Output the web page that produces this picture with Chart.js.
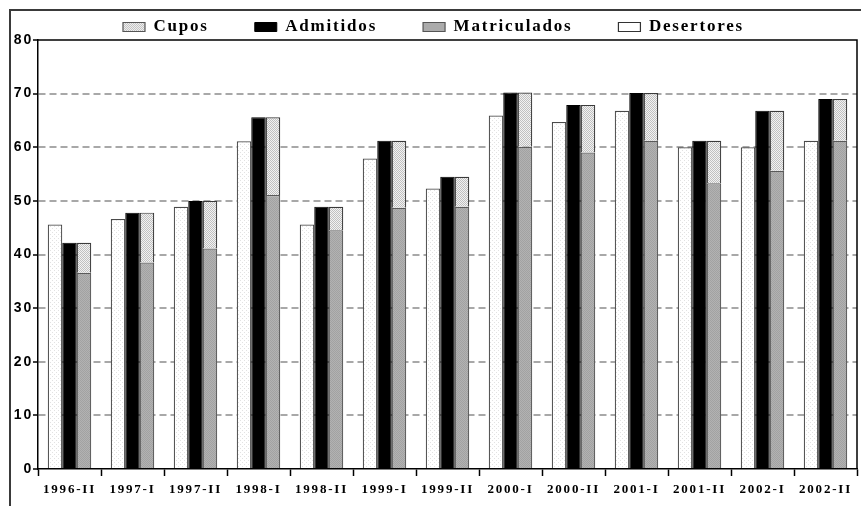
<!DOCTYPE html>
<html>
<head>
<meta charset="utf-8">
<script src="https://cdn.jsdelivr.net/npm/chart.js@4.4.0/dist/chart.umd.min.js"></script>
<style>
html,body{margin:0;padding:0;background:#fff;}
#wrap{width:861px;height:506px;position:relative;}
</style>
</head>
<body>
<div id="wrap"><canvas id="c"></canvas></div>
<script>
const categories = ['1996-II','1997-I','1997-II','1998-I','1998-II','1999-I','1999-II','2000-I','2000-II','2001-I','2001-II','2002-I','2002-II'];
const cupos        = [45.6, 46.6, 48.9, 61.1, 45.6, 57.9, 52.3, 65.9, 64.7, 66.8, 60.0, 60.0, 61.2];
const admitidos    = [42.2, 47.8, 50.0, 65.6, 48.9, 61.2, 54.5, 70.2, 67.9, 70.1, 61.2, 66.8, 69.0];
const matriculados = [36.6, 38.5, 41.1, 51.1, 44.5, 48.7, 48.9, 60.1, 59.0, 61.2, 53.3, 55.6, 61.2];
const desertores   = [5.6, 9.3, 8.9, 14.5, 4.4, 12.5, 5.6, 10.1, 8.9, 8.9, 7.9, 11.2, 7.8];
const seriesNames  = ['Cupos', 'Admitidos', 'Matriculados', 'Desertores'];
const yMin = 0, yMax = 80, yStep = 10;

const LS = '1.8px';

function makePattern(size, bg, fg, dots) {
  const c = document.createElement('canvas');
  c.width = size; c.height = size;
  const g = c.getContext('2d');
  g.fillStyle = bg; g.fillRect(0, 0, size, size);
  g.fillStyle = fg;
  dots.forEach(([x, y]) => g.fillRect(x, y, 1, 1));
  return g.createPattern(c, 'repeat');
}
const cuposPat = makePattern(4, '#ffffff', '#e2e2e2', [[0,0],[2,2]]);
const desPat   = makePattern(2, '#f2f2f2', '#c0c0c0', [[0,0],[1,1]]);
const matPat   = makePattern(2, '#b2b2b2', '#a2a2a2', [[0,0],[1,1]]);
const legendCuposPat = makePattern(2, '#eeeeee', '#c4c4c4', [[0,0],[1,1]]);

const framePlugin = {
  id: 'frame',
  beforeLayout(chart) { chart.ctx.letterSpacing = LS; },
  afterLayout(chart) {
    const lg = chart.legend;
    if (lg) {
      const p = lg.options.labels.padding;
      const fs = lg.options.labels.font.size;
      lg.top = 27 - fs / 2 - p;
    }
  },
  beforeDraw(chart) { chart.ctx.letterSpacing = LS; },
  afterDraw(chart) {
    const {ctx, chartArea: a} = chart;
    ctx.save();
    ctx.strokeStyle = '#000';
    ctx.lineWidth = 1.5;
    ctx.beginPath();
    ctx.moveTo(a.left, a.top);
    ctx.lineTo(a.right, a.top);
    ctx.lineTo(a.right, a.bottom);
    ctx.stroke();
    ctx.strokeStyle = '#3a3a3a';
    ctx.lineWidth = 2;
    ctx.beginPath();
    ctx.moveTo(10, 506);
    ctx.lineTo(10, 10);
    ctx.lineTo(861, 10);
    ctx.stroke();
    ctx.restore();
  }
};

const ctx = document.getElementById('c').getContext('2d');
new Chart(ctx, {
  type: 'bar',
  data: {
    labels: categories,
    datasets: [
      { label: seriesNames[0], data: cupos, stack: 's1', backgroundColor: cuposPat, borderColor: '#4a4a4a', borderWidth: 1.2 },
      { label: seriesNames[1], data: admitidos, stack: 's2', backgroundColor: '#000000', borderColor: '#000000', borderWidth: 1 },
      { label: seriesNames[2], data: matriculados, stack: 's3', backgroundColor: matPat, borderColor: '#5a5a5a', borderWidth: 1.2 },
      { label: seriesNames[3], data: desertores, stack: 's3', backgroundColor: desPat, borderColor: '#3a3a3a', borderWidth: 1.2 }
    ]
  },
  options: {
    responsive: true,
    maintainAspectRatio: false,
    animation: false,
    datasets: { bar: { categoryPercentage: 0.69, barPercentage: 1.0 } },
    layout: { padding: { top: 14, left: 10, right: 4, bottom: 0 } },
    plugins: {
      legend: {
        position: 'top',
        align: 'center',
        maxHeight: 26,
        labels: {
          boxWidth: 22,
          boxHeight: 9,
          padding: 46,
          color: '#000',
          font: { family: "'Liberation Serif', 'Times New Roman', serif", size: 17, weight: 'bold' },
          generateLabels(chart) {
            const items = Chart.defaults.plugins.legend.labels.generateLabels(chart);
            items[0].fillStyle = legendCuposPat; items[0].strokeStyle = '#555'; items[0].lineWidth = 1.2;
            items[1].fillStyle = '#000'; items[1].strokeStyle = '#000';
            items[2].fillStyle = '#ababab'; items[2].strokeStyle = '#555'; items[2].lineWidth = 1.2;
            items[3].fillStyle = '#ffffff'; items[3].strokeStyle = '#333'; items[3].lineWidth = 1.2;
            return items;
          }
        }
      },
      tooltip: { enabled: false }
    },
    scales: {
      x: {
        stacked: true,
        offset: true,
        grid: { offset: true, drawOnChartArea: false, drawTicks: true, tickLength: 7, tickColor: '#000', tickWidth: 1.5, color: '#000' },
        border: { display: true, color: '#000', width: 1.5 },
        ticks: {
          color: '#000', padding: 6, autoSkip: false, maxRotation: 0,
          font: { family: "'Liberation Serif', 'Times New Roman', serif", size: 13, weight: 'bold' }
        },
        afterFit(s) { s.height = 37; }
      },
      y: {
        stacked: true,
        min: yMin, max: yMax,
        grid: {
          color: (c) => (c.tick && (c.tick.value === yMin || c.tick.value === yMax)) ? 'rgba(0,0,0,0)' : '#a8a8a8',
          lineWidth: 2, tickColor: '#000', tickWidth: 1.5, tickLength: 5
        },
        border: { display: true, color: '#000', width: 1.5, dash: [7, 4] },
        ticks: {
          stepSize: yStep, color: '#000', padding: 0,
          font: { family: "'Liberation Sans', Arial, sans-serif", size: 14, weight: 'bold' }
        },
        afterFit(s) { s.width = 28; }
      }
    }
  },
  plugins: [framePlugin]
});
</script>
</body>
</html>
